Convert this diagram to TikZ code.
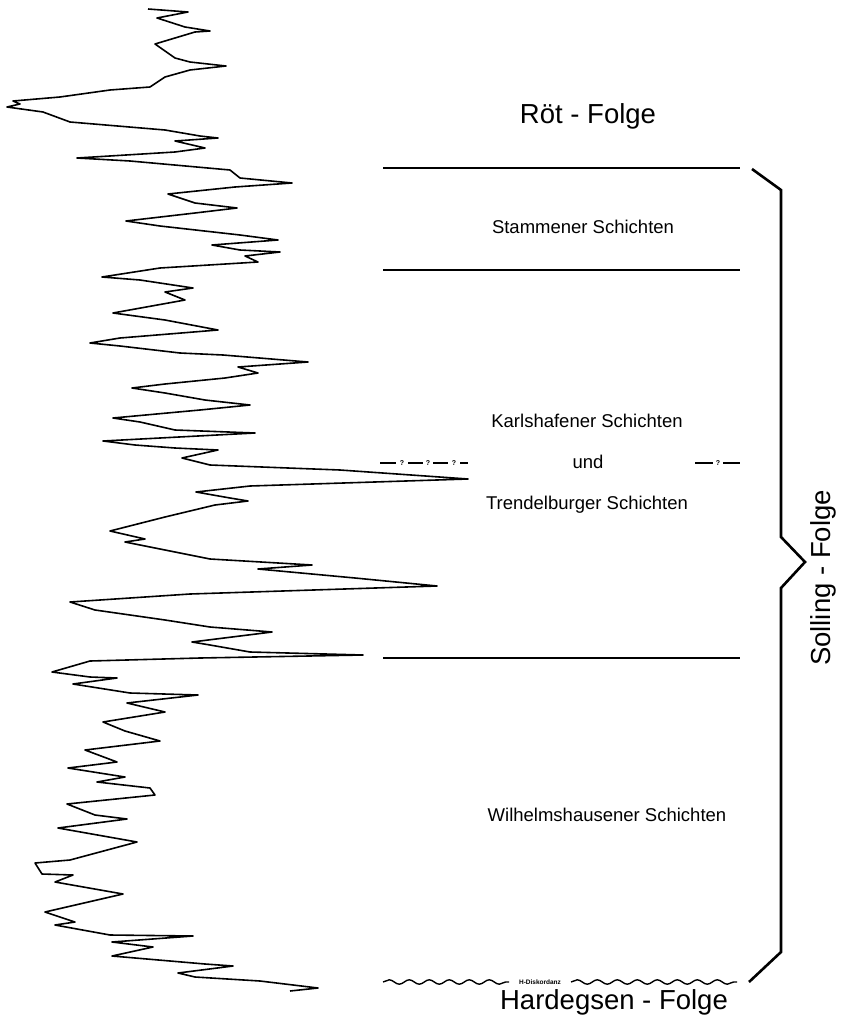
\documentclass[tikz,border=0pt]{standalone}
\usepackage{fontspec}
\setmainfont{Liberation Sans}
\usetikzlibrary{decorations.pathmorphing}

\begin{document}
\begin{tikzpicture}[x=1pt, y=-1pt,
  logline/.style={line width=1.6pt, line join=round},
  grenze/.style={line width=2.2pt},
  folge/.style={font=\fontsize{27.5}{30}\selectfont},
  schicht/.style={font=\fontsize{18.5}{20}\selectfont},
  frage/.style={font=\fontsize{7}{8}\selectfont\bfseries, inner sep=0pt},
  welle/.style={line width=1.4pt, decorate,
    decoration={snake, segment length=20pt, amplitude=2.2pt}}]
  \path[use as bounding box] (0,0) rectangle (845,1025);

  % Gamma-Log
  \draw[logline] plot coordinates {
    (148,9) (188,12) (157,18) (185,27) (210,31) (195,32) (155,44) (175,58)
    (190,62) (226,66) (190,70) (165,77) (150,87) (110,90) (60,97) (13,101)
    (20,104) (7,107) (43,112) (70,122) (165,130) (200,136) (218,138) (175,141)
    (205,148) (175,152) (77,158) (130,161) (230,170) (240,178) (292,183) (235,187)
    (168,194) (195,203) (237,208) (195,213) (126,221) (160,226) (240,235) (278,240)
    (212,245) (240,250) (280,252) (245,256) (258,262) (160,268) (102,277) (140,280)
    (193,288) (165,292) (185,300) (113,313) (165,320) (218,330) (120,338)
    (90,343) (120,346) (180,353) (223,355) (308,362) (238,367) (258,373) (225,378)
    (165,384) (132,388) (165,393) (205,400) (250,405) (200,410) (113,418) (140,422)
    (175,430) (255,433) (103,441) (135,445) (175,448) (218,450) (182,458) (210,465)
    (340,470) (468,479) (250,486) (196,492) (230,498) (248,501) (215,505) (165,517)
    (110,531) (145,539) (125,542) (150,547) (210,559) (312,565) (258,569) (355,578)
    (437,586) (190,594) (70,602) (95,610) (165,620) (210,627) (272,632) (192,642)
    (210,645) (250,652) (363,655) (200,658) (90,661) (52,672) (90,677) (117,678)
    (73,684) (130,693) (198,695) (127,703) (165,712) (103,722) (125,731) (160,741)
    (85,750) (117,762) (68,768) (125,777) (97,782) (150,788) (155,795) (67,804)
    (95,815) (127,819) (58,828) (137,842) (70,860) (35,863) (42,874) (73,875)
    (55,882) (123,894) (45,912) (75,922) (55,925) (110,935) (193,936) (112,942)
    (153,947) (112,956) (205,964) (233,966) (178,973) (195,977) (260,981) (318,988)
    (290,991)};

  % Grenzen
  \coordinate (g1l) at (383,168);
  \coordinate (g1r) at (740,168);
  \coordinate (g2l) at (383,270);
  \coordinate (g2r) at (740,270);
  \coordinate (g3l) at (383,658);
  \coordinate (g3r) at (740,658);
  \draw[grenze, line width=2.8pt] (g1l) -- (g1r);
  \draw[grenze, line width=1.8pt] (g2l) -- (g2r);
  \draw[grenze] (g3l) -- (g3r);

  % Folgen und Schichten
  \node[folge, anchor=base] (roet) at (588,123) {Röt - Folge};
  \node[schicht, anchor=base] (stamm) at (583,233) {Stammener Schichten};
  \node[schicht, anchor=base] (karl) at (587,427) {Karlshafener Schichten};
  \node[schicht, anchor=base] (und) at (588,468) {und};
  \node[schicht, anchor=base] (trend) at (587,509) {Trendelburger Schichten};
  \node[schicht, anchor=base] (wilh) at (607,821) {Wilhelmshausener Schichten};
  \node[folge, anchor=base] (hard) at (614,1009) {Hardegsen - Folge};

  % unsichere Grenze
  \foreach \a/\b in {380/396, 408/423, 433/448, 460/468, 695/713, 723/740}
    \draw[line width=1.6pt] (\a,463) -- (\b,463);
  \foreach \q [count=\i] in {402, 428, 454, 718}
    \node[frage] (q\i) at (\q,463) {?};

  % Diskordanz
  \node[font=\fontsize{6.5}{7}\selectfont\bfseries, inner sep=0pt] (disk) at (540,982) {H-Diskordanz};
  \coordinate (w1) at (383,982);
  \coordinate (w2) at (509,982);
  \coordinate (w3) at (571,982);
  \coordinate (w4) at (737,982);
  \draw[welle] (w1) -- (w2);
  \draw[welle] (w3) -- (w4);

  % Klammer Solling
  \coordinate (k1) at (752,169);
  \coordinate (k2) at (781,190);
  \coordinate (k3) at (781,537);
  \coordinate (k4) at (805,562);
  \coordinate (k5) at (781,588);
  \coordinate (k6) at (781,952);
  \coordinate (k7) at (749,982);
  \draw[line width=2.6pt] (k1) -- (k2) -- (k3) -- (k4) -- (k5) -- (k6) -- (k7);
  \node[folge, rotate=90, anchor=base] (soll) at (830,578) {Solling - Folge};
\end{tikzpicture}
\end{document}
